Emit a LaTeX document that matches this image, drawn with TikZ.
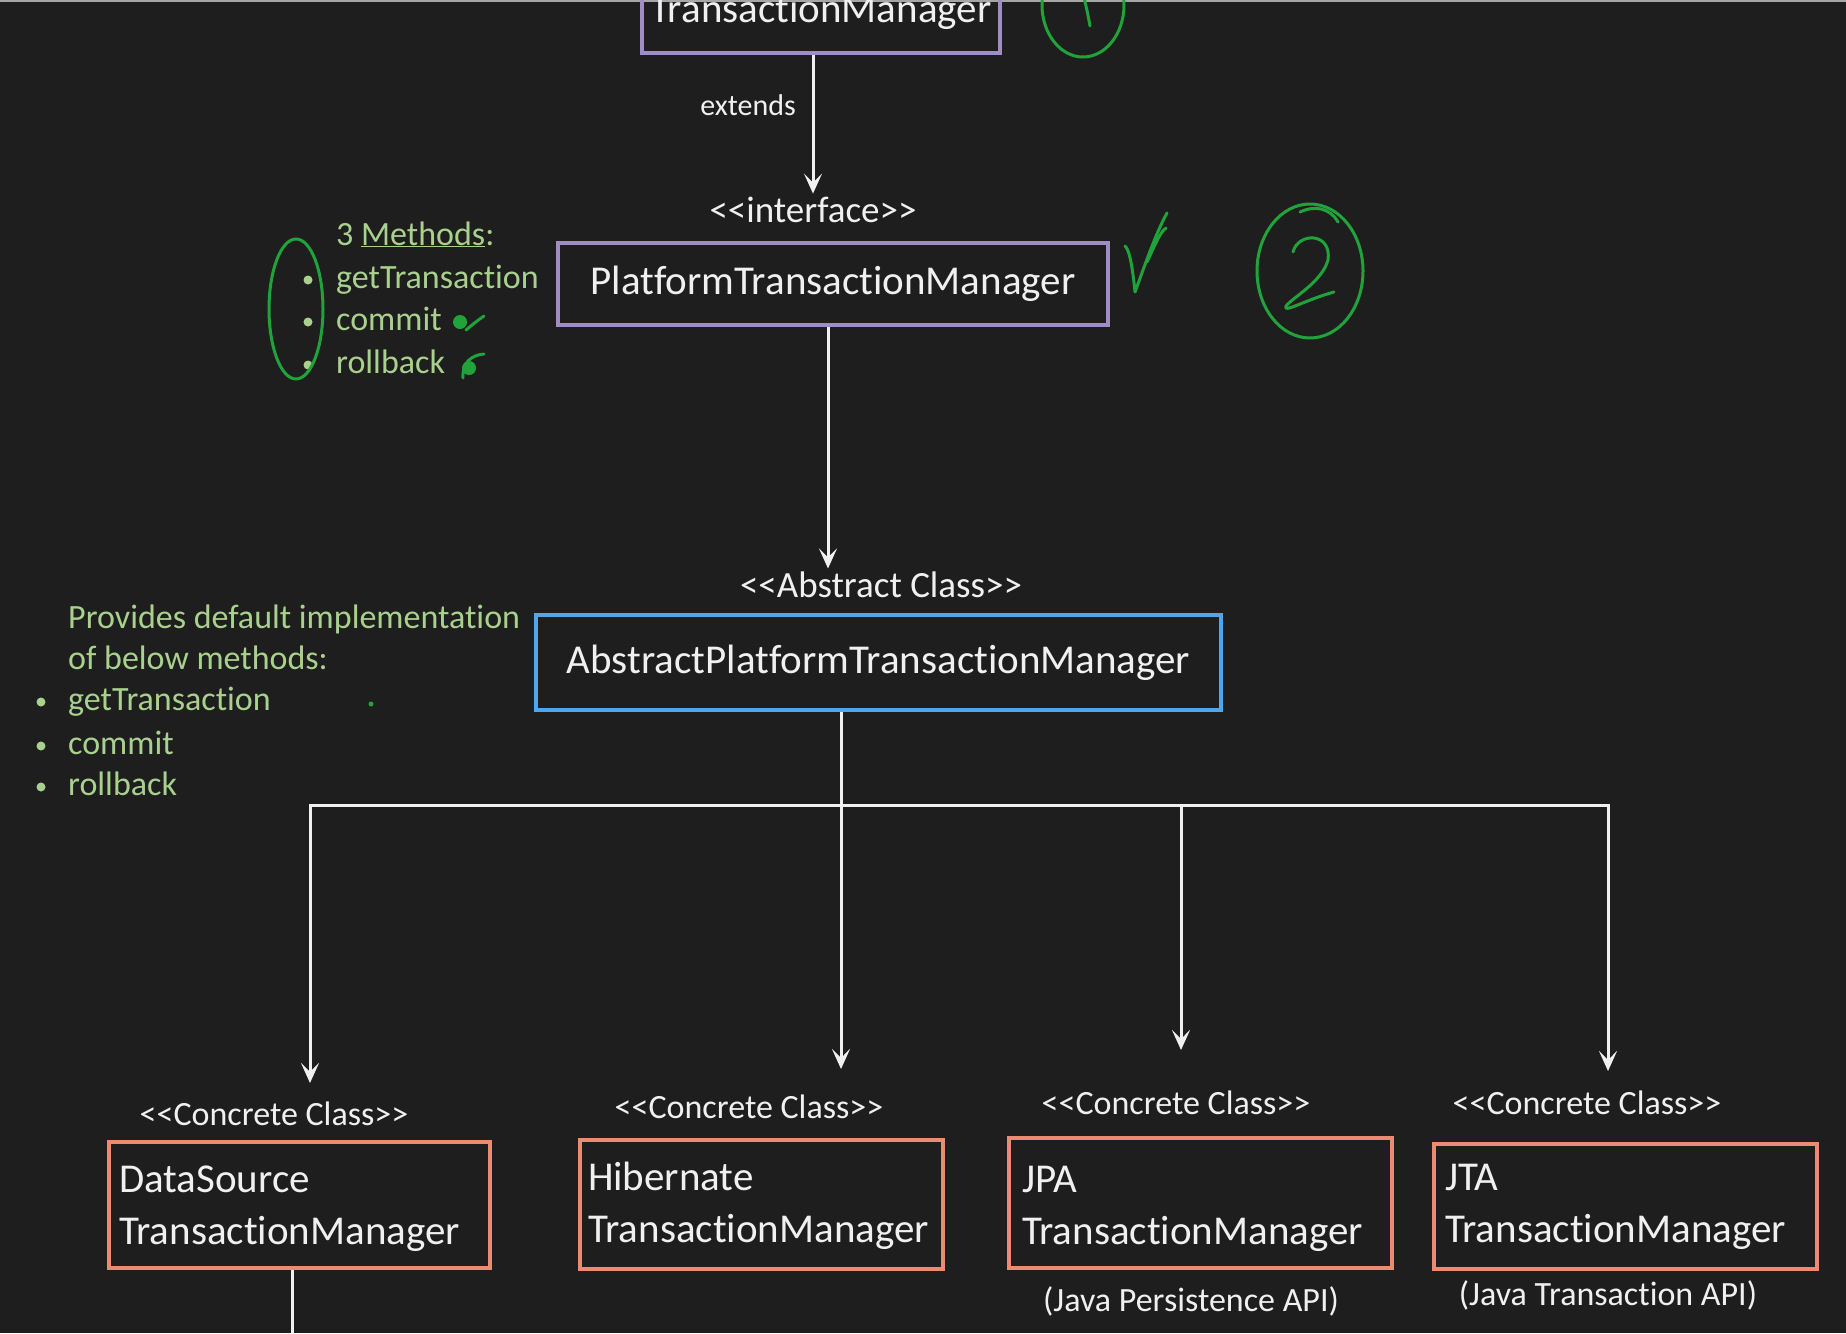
\documentclass[tikz,border=0pt]{standalone}
\usepackage{fontspec}
\setmainfont{Carlito}[Ligatures={NoCommon}]
\usetikzlibrary{arrows.meta}
\definecolor{bg}{HTML}{1E1E1E}
\definecolor{fg}{HTML}{F0F0F0}
\definecolor{purp}{HTML}{A08DC4}
\definecolor{blu}{HTML}{4FA6EC}
\definecolor{sal}{HTML}{EC8A72}
\definecolor{lgreen}{HTML}{A9D18E}
\definecolor{hgreen}{HTML}{1FA33A}
\newcommand\dlt{<\kern0pt<}
\newcommand\dgt{>\kern0pt>}
\begin{document}
\begin{tikzpicture}[x=1pt,y=-1pt,
  box/.style={draw, line width=4pt, text=fg, font=\fontsize{41}{52}\selectfont, inner sep=0pt},
  cbox/.style={draw=sal, line width=4pt, text=fg, font=\fontsize{41}{52}\selectfont, align=left, inner ysep=0pt},
  stereo/.style={text=fg, font=\fontsize{37}{44}\selectfont},
  cstereo/.style={text=fg, font=\fontsize{34}{40}\selectfont},
  small/.style={text=fg, font=\fontsize{30}{36}\selectfont},
  gtxt/.style={text=lgreen, font=\fontsize{34}{41}\selectfont, inner sep=0pt, anchor=base west},
  conn/.style={draw=fg, line width=3pt},
  arr/.style={conn, -{Stealth[length=20pt,width=18pt,inset=9pt]}},
  hand/.style={draw=hgreen, line width=3pt, line cap=round, line join=round}]
\fill[bg] (0,0) rectangle (1846,1333);
\useasboundingbox (0,0) rectangle (1846,1333);
\clip (0,0) rectangle (1846,1333);
\draw[gray!70, line width=2pt] (0,1) -- (1846,1);

% --- class boxes
\node[box, draw=purp, minimum width=358, minimum height=82] (tm) at (821,12) {TransactionManager};
\node[small] (extl) at (748,105) {extends};
\node[stereo] (ifl) at (813,210) {\dlt interface\dgt};
\node[box, draw=purp, minimum width=550, minimum height=82] (ptm) at (833,284) {PlatformTransactionManager};
\node[stereo] (abl) at (881,585) {\dlt Abstract Class\dgt};
\node[box, draw=blu, minimum width=685, minimum height=95] (aptm) at (878.5,662.5) {AbstractPlatformTransactionManager};

\node[cstereo] (c1l) at (274,1114) {\dlt Concrete Class\dgt};
\node[cstereo] (c2l) at (749,1107) {\dlt Concrete Class\dgt};
\node[cstereo] (c3l) at (1176,1103) {\dlt Concrete Class\dgt};
\node[cstereo] (c4l) at (1587,1103) {\dlt Concrete Class\dgt};

\node[cbox, inner xsep=10pt, text width=361pt, minimum height=126] (ds) at (299.5,1205) {\rule{0pt}{34pt}DataSource\\TransactionManager};
\node[cbox, inner xsep=8pt, text width=347pt, minimum height=129] (hb) at (761.5,1204.5) {\rule{0pt}{32pt}Hibernate\\TransactionManager};
\node[cbox, inner xsep=13pt, text width=357pt, minimum height=130] (jpa) at (1200.5,1203) {\rule{0pt}{38pt}JPA\\TransactionManager};
\node[cbox, inner xsep=11pt, text width=361pt, minimum height=125] (jta) at (1625.5,1206.5) {JTA\\TransactionManager};

\node[cstereo] (jpan) at (1191,1301) {(Java Persistence API)};
\node[cstereo] (jtan) at (1608,1295) {(Java Transaction API)};

% --- connectors
\draw[arr] (tm.south -| ifl.north) -- (ifl.north);
\draw[arr] ([xshift=-5pt]ptm.south) -- ([xshift=-5pt]ptm.south |- abl.north);
\coordinate (j) at (841,805);
\coordinate (b3) at (1181,805);
\coordinate (e1) at (310,1083);
\coordinate (e2) at (841,1069);
\coordinate (e3) at (1181,1050);
\coordinate (e4) at (1608,1071);
\coordinate (dso) at (292,1400);
\draw[conn] (aptm.south -| j) -- (j);
\draw[arr] (j) -| (e1);
\draw[arr] (j) -| (e4);
\draw[arr] (j) -- (e2);
\draw[arr] (b3) -- (e3);
\draw[conn] (ds.south -| dso) -- (dso);

% --- green notes (upper)
\node[gtxt] (m0) at (336,245) {3 \underline{Methods}:};
\node[gtxt] (m1) at (336,288) {getTransaction};
\node[gtxt] (m2) at (336,330) {commit};
\node[gtxt] (m3) at (336,373) {rollback};
\fill[lgreen] (308,280) circle (4.5) (308,322) circle (4.5) (308,365) circle (4.5);

% --- green notes (lower)
\node[gtxt] (n0) at (68,628) {Provides default implementation};
\node[gtxt] (n1) at (68,669) {of below methods:};
\node[gtxt] (n2) at (68,710) {getTransaction};
\node[gtxt] (n3) at (68,754) {commit};
\node[gtxt] (n4) at (68,795) {rollback};
\fill[lgreen] (41,702) circle (4.5) (41,746) circle (4.5) (41,787) circle (4.5);
\fill[hgreen] (371,704) circle (2.5);

% --- hand-drawn marks
\draw[hand] (1083,5) ellipse [x radius=41, y radius=52];
\draw[hand] (1082,-10) .. controls (1086,5) and (1088,15) .. (1090,26);
\draw[hand] (1310,271) ellipse [x radius=53, y radius=67];
\draw[hand] (1300,212) .. controls (1315,205) and (1330,208) .. (1338,222);
\draw[hand] (1293,252) .. controls (1298,232) and (1332,232) .. (1328,260)
  .. controls (1322,282) and (1292,298) .. (1286,306)
  .. controls (1282,314) and (1305,300) .. (1334,292);
\draw[hand] (1125,246) .. controls (1130,250) and (1133,272) .. (1135,292)
  .. controls (1145,265) and (1155,235) .. (1167,213);
\draw[hand] (1147,262) .. controls (1155,245) and (1160,232) .. (1166,228);
\draw[hand] (296,309) ellipse [x radius=27, y radius=70];
\fill[hgreen] (460,322) circle (7);
\draw[hand] (466,330) .. controls (472,325) and (478,320) .. (484,316);
\draw[hand] (463,378) .. controls (462,362) and (472,355) .. (484,354);
\fill[hgreen] (469,368) circle (7);
\end{tikzpicture}
\end{document}
